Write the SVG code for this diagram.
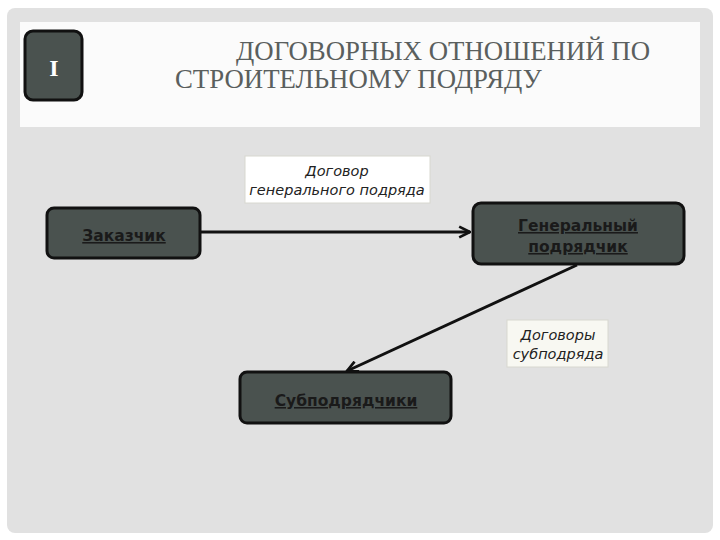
<svg xmlns="http://www.w3.org/2000/svg" width="720" height="540" viewBox="0 0 720 540">
<style>
.node{fill:#4a524f;stroke:#111;stroke-width:3}
.nt{font-family:"DejaVu Sans",Verdana,sans-serif;font-weight:bold;font-size:15.5px;fill:#1a1a1a;text-decoration:underline;text-anchor:middle}
.lbl{fill:#fff;stroke:#d8d8d0;stroke-width:1}
.lt{font-family:"DejaVu Sans",sans-serif;font-style:italic;font-size:14.5px;fill:#222;text-anchor:middle}
.title{font-family:"Liberation Serif","Times New Roman",serif;font-size:26.8px;fill:#5a5f5e}
.conn{stroke:#111;stroke-width:3;fill:none;marker-end:url(#arr)}
</style>
<defs>
<marker id="arr" viewBox="0 0 10 10" refX="9" refY="5" markerWidth="4.5" markerHeight="4.5" orient="auto" markerUnits="strokeWidth">
<path d="M1,1 L9,5 L1,9" fill="none" stroke="#111" stroke-width="2"/>
</marker>
</defs>
<rect width="720" height="540" fill="#fff"/>
<rect x="7" y="8" width="706" height="525" rx="8" fill="#e1e1e1"/>
<rect x="20" y="22" width="680" height="105" fill="#fbfbfb"/>
<g id="num">
<rect x="25" y="31" width="57" height="69" rx="8" class="node"/>
<text x="54" y="76" font-family="Liberation Serif,serif" font-weight="bold" font-size="24" fill="#fff" text-anchor="middle">I</text>
</g>
<g id="title">
<text class="title" x="236" y="60">ДОГОВОРНЫХ ОТНОШЕНИЙ ПО</text>
<text class="title" x="175" y="88">СТРОИТЕЛЬНОМУ ПОДРЯДУ</text>
</g>
<g id="connectors">
<line class="conn" x1="201" y1="232" x2="470" y2="232"/>
<line class="conn" x1="577" y1="265" x2="347" y2="371"/>
</g>
<g id="label1">
<rect x="245" y="156" width="185" height="47" class="lbl"/>
<text class="lt" x="337" y="176">Договор</text>
<text class="lt" x="337" y="195">генерального подряда</text>
</g>
<g id="label2">
<rect x="507" y="320" width="101" height="47" fill="#f8f8f2" stroke="#d8d8d0"/>
<text class="lt" x="558" y="340">Договоры</text>
<text class="lt" x="558" y="359">субподряда</text>
</g>
<g id="customer">
<rect x="47" y="208" width="153" height="50" rx="7" class="node"/>
<text class="nt" x="124" y="241">Заказчик</text>
</g>
<g id="general">
<rect x="473" y="203" width="211" height="61" rx="8" class="node"/>
<text class="nt" x="578" y="231">Генеральный</text>
<text class="nt" x="578" y="252">подрядчик</text>
</g>
<g id="sub">
<rect x="240" y="372" width="211" height="51" rx="7" class="node"/>
<text class="nt" x="346" y="406">Субподрядчики</text>
</g>
</svg>
